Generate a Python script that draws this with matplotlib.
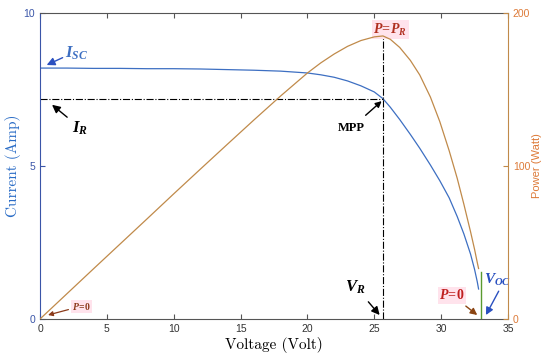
import matplotlib
matplotlib.use("Agg")
import matplotlib.pyplot as plt

# PV module characteristic
voltage = [0, 2, 4, 6, 8, 10, 12, 14, 16, 18, 20, 21, 22, 23, 24, 25, 25.65,
           26.2, 26.9, 27.7, 28.4, 29.2, 29.9, 30.6, 31.2, 31.7, 32.2, 32.5, 32.7, 32.8]
current = [8.20, 8.20, 8.19, 8.19, 8.18, 8.18, 8.17, 8.15, 8.13, 8.10, 8.04, 7.98,
           7.90, 7.78, 7.62, 7.42, 7.20, 6.92, 6.52, 6.03, 5.58, 5.03, 4.52, 3.96,
           3.35, 2.78, 2.12, 1.62, 1.22, 0.98]
power = [0, 16.4, 32.8, 49.1, 65.4, 81.8, 98.0, 114.1, 130.1, 145.8, 160.8, 167.4,
         173.2, 178.2, 182.0, 184.4, 185.0, 182.8, 177.5, 169.0, 159.5, 145.0, 129.0,
         110.0, 92.0, 75.0, 57.0, 45.5, 37.0, 33.0]

v_mpp = 25.65
i_mpp = 7.2
p_top = 9.25       # top of the vertical guide, in current units
v_oc = 33.0
voc_mark = [0, 1.55]

xticks = [0, 5, 10, 15, 20, 25, 30, 35]
yticks_i = [0, 5, 10]
yticks_p = [0, 100, 200]

plt.rcParams['mathtext.fontset'] = 'custom'
plt.rcParams['mathtext.it'] = 'Liberation Serif:italic:bold'
plt.rcParams['mathtext.rm'] = 'Liberation Serif:bold'
plt.rcParams['mathtext.bf'] = 'Liberation Serif:bold'

blue = '#3d6fc2'
tan = '#c08a4a'
orange = '#dd7a38'
axis_blue = '#3a55a8'
grey = '#555555'

fig = plt.figure(figsize=(5.5, 3.58), dpi=100)
ax1 = fig.add_axes([40/550, 1 - 319/358, 468/550, 306/358])
ax2 = ax1.twinx()

ax1.plot(voltage, current, color=blue, lw=0.9)
ax2.plot(voltage, power, color=tan, lw=0.9)
ax1.plot([v_oc, v_oc], voc_mark, color='#5a9a30', lw=1.0)

# MPP guide lines
ax1.plot([0, v_mpp], [i_mpp, i_mpp], color='black', lw=0.8, ls='-.')
ax1.plot([v_mpp, v_mpp], [0, p_top], color='black', lw=0.8, ls='-.')

ax1.set_xlim(0, 35)
ax1.set_ylim(0, 10)
ax2.set_ylim(0, 200)
ax1.set_xticks(xticks)
ax1.set_yticks(yticks_i)
ax2.set_yticks(yticks_p)

tickfont = 'Liberation Sans'
ax1.tick_params(axis='x', direction='in', top=True, length=3.5, labelsize=7.5,
                colors=grey, labelcolor='#333333')
ax1.tick_params(axis='y', direction='in', length=3.5, labelsize=7.5,
                colors=axis_blue, labelcolor=axis_blue)
ax2.tick_params(axis='y', direction='in', length=3.5, labelsize=7.5,
                colors=tan, labelcolor=orange)
for lab in ax1.get_xticklabels() + ax1.get_yticklabels() + ax2.get_yticklabels():
    lab.set_fontfamily(tickfont)

ax1.spines['left'].set_color(axis_blue)
ax1.spines['bottom'].set_color(grey)
ax1.spines['top'].set_color(grey)
ax1.spines['right'].set_visible(False)
ax2.spines['right'].set_color(tan)
for s in ['left', 'top', 'bottom']:
    ax2.spines[s].set_visible(False)

ax1.set_xlabel('Voltage (Volt)', fontfamily='cmr10', fontsize=11, labelpad=2)
ax1.set_ylabel('Current (Amp)', fontfamily='cmr10', fontsize=11, color='#2a6cc6', labelpad=2)
ax2.set_ylabel('Power (Watt)', fontfamily=tickfont, fontsize=8, color=orange, labelpad=1)

pink = dict(boxstyle='square,pad=0.1', fc='#ffe3ec', ec='none')

# annotations (data coordinates of the current axis)
ax1.annotate(r'$I_{SC}$', xy=(0.5, 8.3), xytext=(1.9, 8.7), fontsize=12,
             color=blue, va='center',
             arrowprops=dict(arrowstyle='-|>', color='#2a50c0', lw=1.0, shrinkA=0, shrinkB=0,
                             relpos=(0, 0.3)))
ax1.annotate(r'$I_R$', xy=(0.9, 7.0), xytext=(2.4, 6.25), fontsize=12,
             color='black', va='center',
             arrowprops=dict(arrowstyle='-|>', color='black', lw=1.0, shrinkA=2, shrinkB=0))
ax1.annotate('MPP', xy=(25.55, 7.12), xytext=(23.3, 6.25), fontsize=9,
             fontfamily='Liberation Serif', fontweight='bold', ha='center', va='center',
             arrowprops=dict(arrowstyle='-|>', color='black', lw=1.0, shrinkA=4, shrinkB=0))
ax1.text(26.2, 9.45, r'$P\!=\!P_R$', fontsize=10, color='#b03020',
         ha='center', va='center', bbox=pink)
ax1.annotate(r'$V_R$', xy=(25.4, 0.13), xytext=(23.6, 1.05), fontsize=12,
             color='black', ha='center', va='center',
             arrowprops=dict(arrowstyle='-|>', color='black', lw=1.0, shrinkA=3, shrinkB=0))
ax1.annotate(r'$P\!=\!0$', xy=(32.7, 0.13), xytext=(30.8, 0.78), fontsize=10,
             color='#c02020', ha='center', va='center', bbox=pink,
             arrowprops=dict(arrowstyle='-|>', color='#8b4513', lw=1.0, shrinkA=3, shrinkB=0))
ax1.annotate(r'$V_{OC}$', xy=(33.35, 0.13), xytext=(33.2, 1.0), fontsize=11,
             color='#2a50c0', ha='left', va='bottom',
             arrowprops=dict(arrowstyle='-|>', color='#2a50c0', lw=1.0, shrinkA=0, shrinkB=0,
                             relpos=(0.6, 0)))
ax1.annotate(r'$P\!=\!0$', xy=(0.6, 0.13), xytext=(2.4, 0.42), fontsize=7,
             color='#8b3a1a', ha='left', va='center', bbox=pink,
             arrowprops=dict(arrowstyle='-|>', color='#8b3a1a', lw=0.9, shrinkA=2, shrinkB=0))

fig.savefig('out.png', dpi=100)
